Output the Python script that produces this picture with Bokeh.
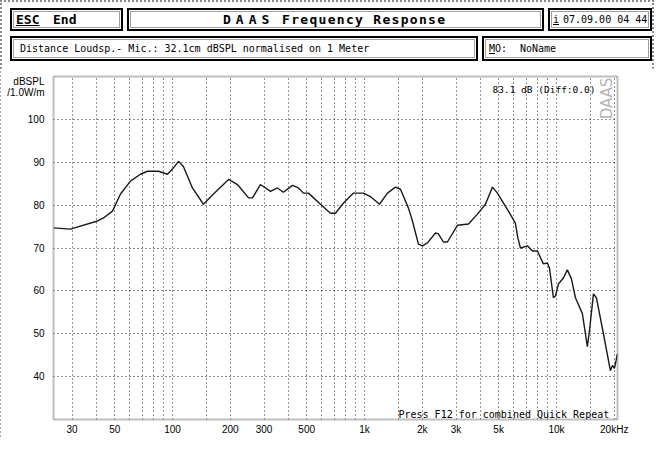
from bokeh.plotting import figure
from bokeh.layouts import column
from bokeh.embed import file_html
from bokeh.resources import INLINE
from bokeh.models import (Range1d, FixedTicker, CustomJSTickFormatter, Label, Div)
import math

# Frecuencias (Hz) y nivel (dB SPL)
freq_hz = [24, 29.4, 40.7, 43.7, 48.7, 53.6, 60.4, 68.1, 74.1, 84.5, 94.2,
           100, 107.5, 114, 127, 145, 163.5, 196, 218, 249, 261, 287, 324,
           352, 378, 422, 453, 481, 511, 590, 665, 706, 778, 877, 988, 1074,
           1197, 1318, 1450, 1540, 1695, 1778, 1910, 2005, 2128, 2344, 2427,
           2577, 2704, 3049, 3482, 3879, 4268, 4642, 4929, 5233, 5623, 6110,
           6300, 6494, 7063, 7499, 7962, 8551, 8974, 9200, 9643, 9880, 10240,
           10870, 11400, 11970, 12560, 13650, 14490, 14860, 15590, 16150,
           17570, 19100, 19580, 20050, 20790]
spl_db = [74.7, 74.4, 76.3, 77.0, 78.6, 82.6, 85.6, 87.2, 87.9, 87.9, 87.2,
          88.4, 90.2, 89.0, 84.0, 80.2, 82.6, 86.0, 84.8, 81.7, 81.7, 84.8, 83.2,
          84.0, 83.0, 84.6, 84.0, 82.8, 82.8, 80.2, 78.1, 78.1, 80.5, 82.8, 82.8, 82.0,
          80.2, 82.8, 84.2, 83.7, 79.3, 76.3, 70.9, 70.5, 71.2, 73.5, 73.3,
          71.4, 71.4, 75.3, 75.6, 77.9, 80.2, 84.2, 82.8, 80.9, 78.6, 75.8,
          72.3, 70.0, 70.5, 69.3, 69.3, 66.3, 66.5, 65.3, 58.4, 58.8, 61.6,
          63.0, 64.9, 62.8, 58.4, 54.7, 47.0, 50.7, 59.3, 58.4,
          50.0, 41.4, 42.6, 41.9, 45.3]

# Marcas de los ejes y de la rejilla
x_ticks = [30, 50, 100, 200, 300, 500, 1000, 2000, 3000, 5000, 10000, 20000]
grid_hz = [30, 40, 50, 60, 70, 80, 90, 100, 150, 200, 300, 400, 500, 600, 700,
           800, 900, 1000, 1500, 2000, 3000, 4000, 5000, 6000, 7000, 8000, 9000,
           10000, 15000, 20000]
y_ticks = [40, 50, 60, 70, 80, 90, 100]
unit_ticks = [106.3, 108.8]   # "/1.0W/m" y "dBSPL" junto al eje

W = 654
HEAD_H = 68
MAIN_H = 437 - HEAD_H
FL, FR, FB = 53, 617, 420   # marco del grafico (lienzo completo)

MONO = "DejaVu Sans Mono"
SANS = "Liberation Sans"


# ---------------- cabecera (HTML) ----------------
def caja(x0, y0, x1, y1):
    return ('<div style="position:absolute;box-sizing:border-box;left:%dpx;top:%dpx;'
            'width:%dpx;height:%dpx;border:2px solid #000;background:#fff;'
            'box-shadow:inset 0 0 0 1px #fff, inset 0 0 0 2px #a0a0a0;"></div>'
            % (x0, y0, x1 - x0, y1 - y0))


def texto(x, y0, y1, txt, size=10, bold=False, extra=""):
    return ('<span style="position:absolute;left:%dpx;top:%dpx;height:%dpx;line-height:%dpx;'
            'white-space:pre;font-size:%spx;font-weight:%s;color:#000;%s">%s</span>'
            % (x, y0, y1 - y0, y1 - y0, size, "bold" if bold else "normal", extra, txt))


R1 = (8, 31)
R2 = (36, 61)
html = ['<div style="position:relative;width:%dpx;height:%dpx;font-family:\'%s\';">'
        % (W, HEAD_H, MONO)]
html += [caja(10, R1[0], 123, R1[1]), caja(127, R1[0], 544, R1[1]),
         caja(548, R1[0], 652, R1[1]), caja(10, R2[0], 478, R2[1]),
         caja(482, R2[0], 652, R2[1])]
html += [
    texto(16, *R1, "<u>ESC</u>", size=13, bold=True),
    texto(53, *R1, "End", size=13, bold=True),
    texto(223, *R1, "D A A S", size=13, bold=True, extra="letter-spacing:-1.4px;"),
    texto(282, *R1, "Frequency Response", size=13, bold=True, extra="letter-spacing:1.3px;"),
    texto(553, *R1, "<u>i</u>", size=10),
    texto(563, *R1, "07.09.00 04 44", size=10),
    texto(20, *R2, "Distance Loudsp.- Mic.: 32.1cm dBSPL normalised on 1 Meter", size=10),
    texto(489, *R2, "<u>M</u>O:", size=10),
    texto(520, *R2, "NoName", size=10),
]
html.append('</div>')
head = Div(text="".join(html), width=W, height=HEAD_H, margin=0)

# ---------------- grafico ----------------
p = figure(width=W, height=MAIN_H, x_axis_type="log",
           x_range=Range1d(24, 20800), y_range=Range1d(30, 110),
           output_backend="svg", toolbar_location=None,
           min_border_left=FL, min_border_right=W - FR,
           min_border_top=76 - HEAD_H, min_border_bottom=437 - FB)

p.background_fill_color = "white"
p.border_fill_color = "white"
p.outline_line_color = "#808080"
p.outline_line_width = 2
p.outline_line_dash = "1 1"

# Rejilla punteada
p.xgrid[0].ticker = FixedTicker(ticks=grid_hz)
p.ygrid[0].ticker = FixedTicker(ticks=y_ticks)
for g in (p.xgrid[0], p.ygrid[0]):
    g.grid_line_color = "#222222"
    g.grid_line_dash = "1 3"
    g.grid_line_width = 1

# Ejes
p.xaxis.ticker = FixedTicker(ticks=x_ticks)
p.xaxis.formatter = CustomJSTickFormatter(
    code="if (tick >= 20000) return '20kHz'; return tick >= 1000 ? (tick / 1000) + 'k' : String(tick);")
p.yaxis.ticker = FixedTicker(ticks=y_ticks + unit_ticks)
p.yaxis.formatter = CustomJSTickFormatter(
    code="if (tick > 107) return 'dBSPL'; if (tick > 105) return '/1.0W/m'; return String(tick);")
for ax in (p.xaxis[0], p.yaxis[0]):
    ax.axis_line_color = None
    ax.major_tick_line_color = None
    ax.minor_tick_line_color = None
    ax.major_tick_out = 0
    ax.major_tick_in = 0
    ax.major_label_text_font = SANS
    ax.major_label_text_font_size = "10px"
    ax.major_label_text_color = "black"
p.xaxis.major_label_standoff = 4
p.yaxis.major_label_standoff = 9

# Curva de respuesta
p.line(freq_hz, spl_db, line_color="#1a1a1a", line_width=1.4)


def plabel(cx, cy, txt, size="10px", align="left", color="black", font=MONO, angle=0.0):
    p.add_layout(Label(x=cx - FL, y=FB - cy, x_units="screen", y_units="screen",
                       text=txt, text_font=font, text_font_size=size,
                       text_align=align, text_baseline="middle",
                       text_color=color, angle=angle))


plabel(492, 90, "83.1 dB (Diff:0.0)", size="9.5px")
plabel(606, 99, "DAAS", size="15px", align="center", color="#b5b5b5",
       font="DejaVu Sans", angle=math.pi / 2)
plabel(398, 415, "Press F12 for combined Quick Repeat")

page = column(head, p, spacing=0,
              styles={"outline": "2px dotted #8a8a8a", "outline-offset": "-2px"})

open("out.html", "w").write(file_html(page, INLINE))
